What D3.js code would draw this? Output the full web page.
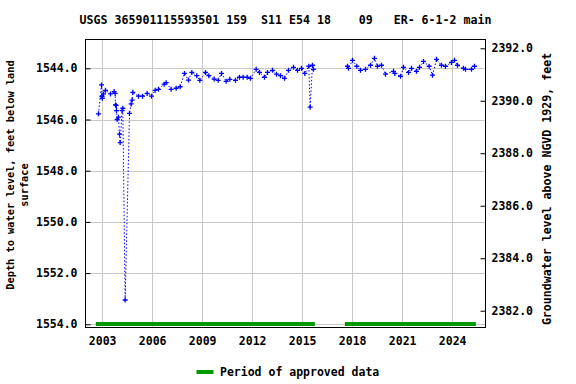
<!DOCTYPE html>
<html>
<head>
<meta charset="utf-8">
<script src="https://cdn.jsdelivr.net/npm/d3@7"></script>
<style>
  html, body { margin: 0; padding: 0; background: #ffffff; }
  svg { display: block; }
  text { font-family: "DejaVu Sans Mono", "Liberation Mono", monospace; font-weight: bold; fill: #000; }
</style>
</head>
<body>
<script>
// ---- Data ----
const titleText = "USGS 365901115593501 159  S11 E54 18    09   ER- 6-1-2 main";
const leftAxisTitle = ["Depth to water level, feet below land", "surface"];
const rightAxisTitle = "Groundwater level above NGVD 1929, feet";
const legendLabel = "Period of approved data";

// decimal year of each measurement
const measYears = [
  2002.78, 2002.96, 2002.99, 2003.01, 2003.08, 2003.20, 2003.50, 2003.72, 2003.78,
  2003.80, 2003.84, 2003.86, 2003.90, 2003.98, 2004.04, 2004.08, 2004.20, 2004.24,
  2004.38, 2004.64, 2004.74, 2004.80, 2004.84, 2005.18, 2005.42, 2005.70, 2005.96,
  2006.18, 2006.38, 2006.72, 2006.84, 2007.14, 2007.44, 2007.68, 2007.94, 2008.18,
  2008.38, 2008.68, 2008.86, 2009.20, 2009.40, 2009.72, 2009.96, 2010.16, 2010.44,
  2010.66, 2011.00, 2011.24, 2011.46, 2011.70, 2011.90, 2012.24, 2012.44, 2012.74,
  2012.92, 2013.22, 2013.46, 2013.70, 2013.94, 2014.18, 2014.48, 2014.72, 2014.96,
  2015.16, 2015.40, 2015.48, 2015.62, 2015.68,
  2017.72, 2017.78, 2018.02, 2018.28, 2018.50, 2018.80, 2019.10, 2019.34, 2019.52,
  2019.76, 2020.00, 2020.48, 2020.56, 2020.90, 2021.08, 2021.38, 2021.56, 2021.86,
  2022.04, 2022.28, 2022.62, 2022.82, 2023.06, 2023.36, 2023.60, 2023.96, 2024.14,
  2024.32, 2024.68, 2024.80, 2025.16, 2025.34
];
// depth to water, feet below land surface
const depthValues = [
  1545.78, 1544.65, 1545.10, 1545.17, 1545.00, 1544.86, 1545.00, 1544.91, 1544.98,
  1545.43, 1545.45, 1545.65, 1546.00, 1545.91, 1546.57, 1546.90, 1545.65, 1545.56,
  1553.05, 1545.76, 1545.39, 1545.24, 1544.94, 1545.09, 1545.09, 1544.98, 1545.09,
  1544.86, 1544.82, 1544.62, 1544.56, 1544.82, 1544.78, 1544.72, 1544.20, 1544.46,
  1544.16, 1544.29, 1544.47, 1544.16, 1544.29, 1544.42, 1544.47, 1544.20, 1544.51,
  1544.43, 1544.47, 1544.35, 1544.35, 1544.35, 1544.39, 1544.04, 1544.16, 1544.35,
  1544.16, 1544.08, 1544.23, 1544.29, 1544.39, 1544.08, 1543.96, 1544.08, 1544.00,
  1544.20, 1543.92, 1545.52, 1543.88, 1544.04,
  1543.92, 1544.00, 1543.69, 1543.92, 1544.08, 1544.04, 1543.88, 1543.61, 1543.92,
  1543.88, 1544.23, 1544.12, 1544.20, 1544.31, 1543.96, 1544.16, 1544.00, 1544.12,
  1543.96, 1543.73, 1543.92, 1544.27, 1543.65, 1543.88, 1543.92, 1543.77, 1543.69,
  1543.88, 1544.00, 1544.04, 1544.04, 1543.92
];
// approved-data periods (decimal years)
const approvedStart = [2002.62, 2017.56];
const approvedEnd   = [2015.76, 2025.42];

const xTickYears = [2003, 2006, 2009, 2012, 2015, 2018, 2021, 2024];
const leftTicks  = [1544, 1546, 1548, 1550, 1552, 1554];
const rightTicks = [2382, 2384, 2386, 2388, 2390, 2392];

// ---- helpers ----
function decToDate(y) {
  const yr = Math.floor(y);
  const start = new Date(yr, 0, 1), end = new Date(yr + 1, 0, 1);
  return new Date(start.getTime() + (y - yr) * (end - start));
}

const W = 576, H = 384;
const L = 85.5, R = 485.5, T = 39.5, B = 327.5;

const svg = d3.select("body").append("svg").attr("width", W).attr("height", H);
svg.append("rect").attr("width", W).attr("height", H).attr("fill", "#fff");

const x = d3.scaleTime().domain([new Date(2002, 0, 1), new Date(2026, 0, 1)]).range([L, R]);
const yL = d3.scaleLinear().domain([1542.875, 1554.125]).range([T, B]);
const yR = d3.scaleLinear().domain([2392.335, 2381.36]).range([T, B]);

// gridlines
const grid = svg.append("g").attr("stroke", "#c8c8c8").attr("stroke-width", 1);
xTickYears.forEach(yr => {
  const px = Math.round(x(new Date(yr, 0, 1))) + 0.5;
  grid.append("line").attr("x1", px).attr("x2", px).attr("y1", T).attr("y2", B);
});
leftTicks.forEach(v => {
  const py = Math.round(yL(v)) + 0.5;
  grid.append("line").attr("x1", L).attr("x2", R).attr("y1", py).attr("y2", py);
});

// approved periods
const approved = approvedStart.map((s, i) => ({ s: decToDate(s), e: decToDate(approvedEnd[i]) }));
svg.append("g").selectAll("line").data(approved).join("line")
  .attr("x1", d => x(d.s)).attr("x2", d => x(d.e))
  .attr("y1", 324).attr("y2", 324)
  .attr("stroke", "#009900").attr("stroke-width", 4);

// data
const data = measYears.map((yv, i) => ({ date: decToDate(yv), v: depthValues[i], yr: yv }));
const segs = [];
let cur = [];
data.forEach((d, i) => {
  if (i > 0 && d.yr - data[i - 1].yr > 1.5) { segs.push(cur); cur = []; }
  cur.push(d);
});
segs.push(cur);

const line = d3.line().x(d => x(d.date)).y(d => yL(d.v));
svg.append("g").selectAll("path").data(segs).join("path")
  .attr("d", line).attr("fill", "none").attr("stroke", "#0000ff")
  .attr("stroke-width", 1).attr("stroke-dasharray", "1.5,2");

svg.append("g").selectAll("path").data(data).join("path")
  .attr("transform", d => `translate(${x(d.date)},${yL(d.v)})`)
  .attr("d", "M-2.5,0H2.5M0,-2.5V2.5")
  .attr("stroke", "#0000ff").attr("stroke-width", 1.3).attr("fill", "none");

// axes
const xAxis = d3.axisBottom(x).tickValues(xTickYears.map(y => new Date(y, 0, 1)))
  .tickFormat(d3.timeFormat("%Y")).tickSize(0).tickPadding(9);
const gx = svg.append("g").attr("transform", `translate(0,${B})`).call(xAxis);
gx.select(".domain").remove();
gx.selectAll("text").attr("font-size", "11.5px").attr("font-family", null);

const yAxisL = d3.axisLeft(yL).tickValues(leftTicks).tickFormat(d3.format(".1f")).tickSize(-5).tickPadding(8);
const gl = svg.append("g").attr("transform", `translate(${L},0)`).call(yAxisL);
gl.select(".domain").remove();
gl.selectAll("text").attr("font-size", "11.5px").attr("font-family", null);

const yAxisR = d3.axisRight(yR).tickValues(rightTicks).tickFormat(d3.format(".1f")).tickSize(-5).tickPadding(6);
const gr = svg.append("g").attr("transform", `translate(${R},0)`).call(yAxisR);
gr.select(".domain").remove();
gr.selectAll("text").attr("font-size", "11.5px").attr("font-family", null);

// frame
svg.append("rect").attr("x", L).attr("y", T).attr("width", R - L).attr("height", B - T)
  .attr("fill", "none").attr("stroke", "#000").attr("stroke-width", 1);

// title
svg.append("text").attr("x", (L + R) / 2).attr("y", 24).attr("text-anchor", "middle")
  .attr("font-size", "11.6px").style("white-space", "pre").text(titleText);

// left axis title
svg.append("text").attr("transform", "translate(14,175) rotate(-90)")
  .attr("text-anchor", "middle").attr("font-size", "10.3px").text(leftAxisTitle[0]);
svg.append("text").attr("transform", "translate(27.5,185) rotate(-90)")
  .attr("text-anchor", "middle").attr("font-size", "10.3px").text(leftAxisTitle[1]);

// right axis title
svg.append("text").attr("transform", "translate(550.5,189) rotate(-90)")
  .attr("text-anchor", "middle").attr("font-size", "11.6px").text(rightAxisTitle);

// legend
svg.append("line").attr("x1", 196.5).attr("x2", 213.5).attr("y1", 372).attr("y2", 372)
  .attr("stroke", "#009900").attr("stroke-width", 4);
svg.append("text").attr("x", 220).attr("y", 376).attr("font-size", "11.5px").text(legendLabel);
</script>
</body>
</html>
